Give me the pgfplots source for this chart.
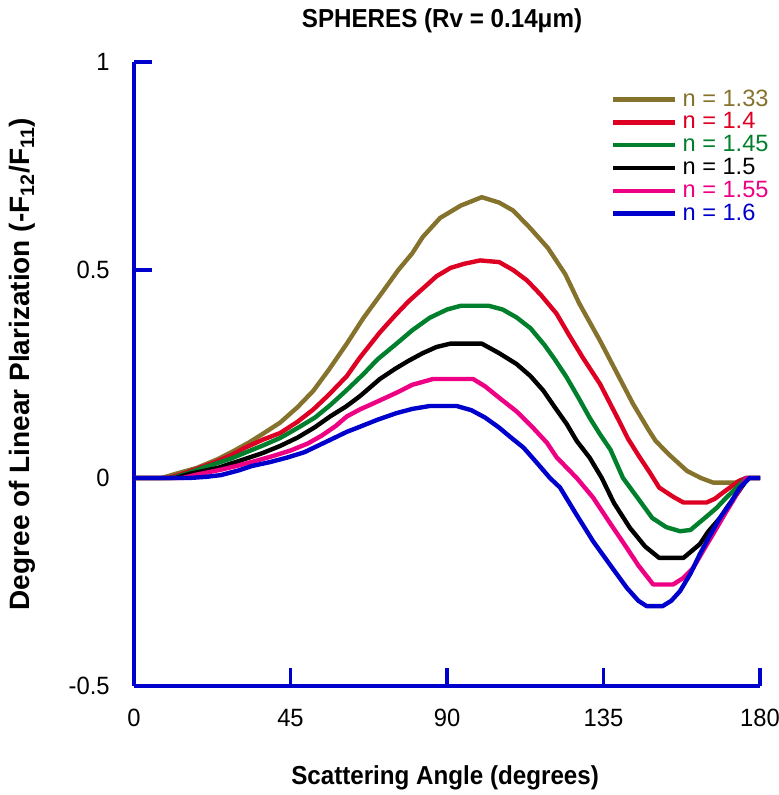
\documentclass[border=0pt]{standalone}
\usepackage{pgfplots}
\pgfplotsset{compat=1.18}
\usepackage{fontspec}
\setmainfont{Liberation Sans}
\newfontfamily\narrowfont[FakeStretch=0.93]{Liberation Sans}
\newfontfamily\tickfont[FakeStretch=0.95]{Liberation Sans}

\definecolor{cOlive}{RGB}{133,114,44}
\definecolor{cRed}{RGB}{221,0,34}
\definecolor{cGreen}{RGB}{0,128,44}
\definecolor{cPink}{RGB}{238,0,132}
\definecolor{cBlue}{RGB}{0,0,204}

\begin{document}
\begin{tikzpicture}
\begin{axis}[
    scale only axis,
    width=313pt, height=312pt,
    xmin=0, xmax=180, ymin=-0.5, ymax=1,
    axis x line*=bottom, axis y line*=left,
    axis line style={cBlue, line width=1.7pt, -},
    xtick={0,45,90,135,180}, xticklabels={0,45,90,135,180},
    ytick={-0.5,0,0.5,1}, yticklabels={-0.5,0,0.5,1},
    tick style={cBlue, line width=1.7pt},
    tick align=inside, major tick length=9pt,
    ticklabel style={font=\tickfont\fontsize{12.5}{14}\selectfont},
    xticklabel style={anchor=center, yshift=-16pt},
    yticklabel style={anchor=east, inner sep=0pt, xshift=-12pt},
    title={\narrowfont\bfseries\fontsize{13}{15}\selectfont SPHERES (Rv = 0.14μm)},
    title style={at={(axis description cs:0.492,1.0465)}, anchor=center, inner sep=0pt},
    xlabel={\narrowfont\bfseries\fontsize{13}{15}\selectfont Scattering Angle (degrees)},
    xlabel style={at={(axis description cs:0.497,-0.1474)}, anchor=center, inner sep=0pt},
    ylabel={\bfseries\fontsize{14}{16}\selectfont Degree of Linear Plarization (-F\textsubscript{12}/F\textsubscript{11})},
    ylabel style={at={(axis description cs:-0.178,0.516)}, anchor=center, inner sep=0pt},
    legend style={at={(axis cs:137.1,0.938)}, anchor=north west, draw=none, fill=none,
        font=\fontsize{11.8}{13}\selectfont, inner sep=0pt, row sep=0pt,
        nodes={inner sep=0pt, text height=9pt, text depth=2.4pt}},
    legend cell align=left,
    legend image code/.code={\draw[#1, line width=2.2pt] (0pt,0pt) -- (31pt,0pt);
        \path (33.5pt,0pt);},
    every axis plot/.append style={line width=2.2pt, line join=round},
]
\coordinate (O) at (axis cs:0,-0.5);
% n = 1.33
\addplot[cOlive] coordinates {
(0,0) (8,0) (12,0.01) (18,0.024) (24,0.045) (28,0.062) (33,0.085) (37,0.106)
(42,0.133) (47,0.17) (51.6,0.21) (56,0.26) (61.2,0.323) (66,0.385) (71.7,0.45)
(76,0.5) (80,0.54) (83,0.579) (88,0.625) (94,0.655) (100,0.675) (105,0.662)
(109,0.643) (114,0.6) (119,0.553) (124,0.49) (128,0.42) (134,0.33) (139,0.25)
(143.5,0.178) (148,0.115) (150,0.089) (154,0.055) (159,0.017) (163,0.0)
(166.5,-0.011) (173,-0.011) (176,0) (180,0)};
% n = 1.4
\addplot[cRed] coordinates {
(0,0) (10,0) (14,0.01) (19,0.025) (23,0.037) (28,0.055) (32,0.073) (37,0.092)
(42,0.108) (47,0.135) (51.6,0.165) (56,0.2) (61.2,0.245) (65,0.29) (70.7,0.35)
(75,0.39) (79,0.425) (83,0.455) (87,0.485) (91,0.505) (95,0.515) (99.5,0.523)
(105,0.519) (109,0.5) (113,0.475) (117,0.44) (121.5,0.395) (125,0.345) (129,0.29)
(134,0.226) (139,0.145) (142,0.095) (145,0.055) (148.4,0.012) (151,-0.023)
(155,-0.045) (158,-0.059) (164.6,-0.059) (167,-0.05) (170,-0.031) (174,-0.007)
(176,0) (180,0)};
% n = 1.45
\addplot[cGreen] coordinates {
(0,0) (11,0) (15,0.01) (20,0.025) (23,0.033) (28,0.047) (32,0.061) (37,0.078)
(42,0.096) (47,0.12) (52,0.145) (56.4,0.175) (61,0.21) (66,0.25) (70,0.285)
(75.5,0.323) (80,0.355) (85,0.385) (90,0.405) (94,0.414) (102,0.414) (106,0.405)
(110,0.386) (114,0.36) (118,0.32) (121,0.285) (124.4,0.242) (128,0.19) (131,0.145)
(134,0.105) (137,0.068) (140.6,0.0) (145,-0.05) (149,-0.096) (153,-0.118)
(157,-0.128) (160,-0.125) (162,-0.111) (165,-0.09) (167.5,-0.072) (170,-0.05)
(173.3,-0.023) (176,0) (180,0)};
% n = 1.5
\addplot[black] coordinates {
(0,0) (12,0) (16,0.01) (24,0.024) (32,0.046) (37,0.06) (42,0.077) (47,0.097)
(52,0.122) (56.4,0.148) (61,0.172) (65,0.197) (70.7,0.238) (75,0.262) (79,0.282)
(83,0.3) (87,0.315) (91,0.323) (100,0.323) (105,0.3) (110,0.274) (114,0.245)
(117.7,0.21) (121,0.17) (124.4,0.13) (127.3,0.089) (131,0.049) (134.5,0)
(138,-0.06) (142.6,-0.12) (147,-0.165) (151,-0.192) (158,-0.192) (162.7,-0.159)
(165,-0.13) (168.5,-0.096) (171,-0.065) (174,-0.031) (176.5,0) (180,0)};
% n = 1.55
\addplot[cPink] coordinates {
(0,0) (14,0) (18,0.008) (25,0.02) (30,0.03) (35,0.041) (40,0.053) (45,0.066)
(50,0.083) (54,0.102) (58,0.125) (61.2,0.148) (65,0.165) (69,0.18) (75.5,0.205)
(80,0.224) (86,0.238) (97.5,0.238) (101,0.22) (105,0.193) (110,0.16) (114.7,0.121)
(118.7,0.085) (121.5,0.05) (127.3,0) (132,-0.047) (137,-0.11) (141.7,-0.168)
(145,-0.21) (149.3,-0.256) (155,-0.256) (158,-0.24) (160.8,-0.216) (164,-0.17)
(166.5,-0.135) (170,-0.085) (172.2,-0.055) (176,0) (180,0)};
% n = 1.6
\addplot[cBlue] coordinates {
(0,0) (16,0) (21,0.003) (25,0.007) (30,0.018) (34,0.029) (39,0.038) (44,0.049)
(49,0.062) (53.5,0.08) (58,0.098) (61.2,0.111) (64,0.12) (70,0.14) (75.5,0.156)
(80,0.166) (85,0.173) (92.8,0.173) (97,0.163) (101,0.145) (105,0.121) (108,0.1)
(112,0.073) (116,0.035) (119.6,0) (122.5,-0.023) (127,-0.085) (132,-0.152)
(137,-0.21) (141.7,-0.264) (145,-0.295) (147.4,-0.308) (152,-0.308)
(154.5,-0.295) (157,-0.272) (160,-0.23) (162.7,-0.183) (165.5,-0.14)
(168.5,-0.096) (171.5,-0.06) (174.2,-0.023) (177,0) (180,0)};
\legend{\textcolor{cOlive}{n = 1.33}, \textcolor{cRed}{n = 1.4},
        \textcolor{cGreen}{n = 1.45}, n = 1.5,
        \textcolor{cPink}{n = 1.55}, \textcolor{cBlue}{n = 1.6}}
\end{axis}
\pgfresetboundingbox
\useasboundingbox ([shift={(-67pt,-54.5pt)}]O) rectangle ([shift={(322pt,343pt)}]O);
\end{tikzpicture}
\end{document}
